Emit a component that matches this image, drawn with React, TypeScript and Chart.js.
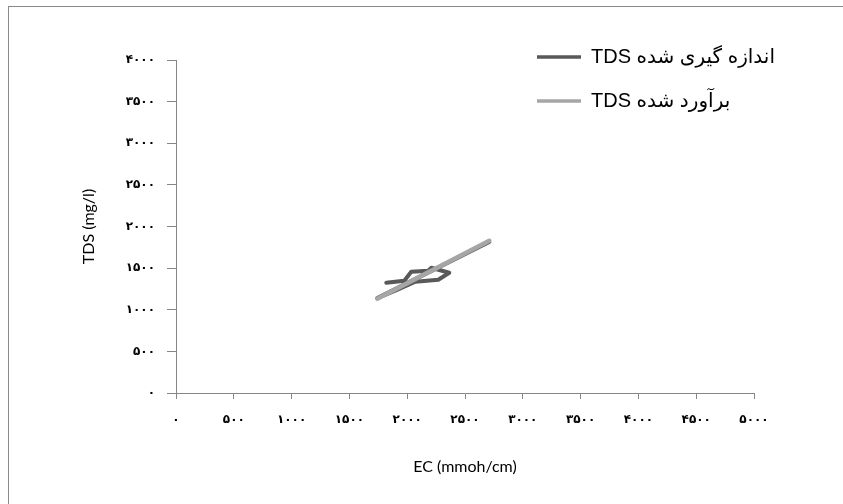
import React, { useEffect, useRef } from "react";
import { Chart, registerables } from "chart.js";

Chart.register(...registerables);

// EC (mmoh/cm) of each sample, in recorded order
const ecValues = [1819, 1975, 2035, 2182, 2208, 2364, 2269, 2070, 1897, 1741, 2710];
// measured TDS (mg/l)
const measuredTds = [1324, 1348, 1456, 1468, 1504, 1444, 1360, 1336, 1228, 1140, 1815];
// estimated TDS (mg/l)
const estimatedTds = [1188, 1300, 1343, 1449, 1467, 1579, 1511, 1368, 1244, 1132, 1828];

const seriesLabels = ["اندازه گیری شده TDS", "برآورد شده TDS"];
const xTickLabels = ["۰", "۵۰۰", "۱۰۰۰", "۱۵۰۰", "۲۰۰۰", "۲۵۰۰", "۳۰۰۰", "۳۵۰۰", "۴۰۰۰", "۴۵۰۰", "۵۰۰۰"];
const yTickLabels = ["۰", "۵۰۰", "۱۰۰۰", "۱۵۰۰", "۲۰۰۰", "۲۵۰۰", "۳۰۰۰", "۳۵۰۰", "۴۰۰۰"];
const xTitle = "EC (mmoh/cm)";
const yTitle = "TDS (mg/l)";

const AXIS = "#868686";

const fixedLegend = {
  id: "fixedLegend",
  afterDraw(chart: any) {
    const ctx = chart.ctx as CanvasRenderingContext2D;
    chart.data.datasets.forEach((ds: any, i: number) => {
      const y = 57 + i * 44;
      ctx.save();
      ctx.strokeStyle = ds.borderColor;
      ctx.lineWidth = 3.5;
      ctx.lineCap = "butt";
      ctx.beginPath();
      ctx.moveTo(537, y);
      ctx.lineTo(581, y);
      ctx.stroke();
      ctx.fillStyle = "#000";
      ctx.font = '20px "Liberation Sans", "DejaVu Sans", sans-serif';
      (ctx as any).direction = "rtl";
      ctx.textAlign = "left";
      ctx.textBaseline = "middle";
      ctx.fillText(ds.label, 591, y);
      ctx.restore();
    });
  },
};

export default function App() {
  const ref = useRef<HTMLCanvasElement | null>(null);
  useEffect(() => {
    if (!ref.current) return;
    const toPts = (ys: number[]) => ecValues.map((x, i) => ({ x, y: ys[i] }));
    const tickFont = { family: '"DejaVu Sans", sans-serif', size: 12, weight: "bold" as const };
    const chart = new Chart(ref.current, {
      type: "scatter",
      data: {
        datasets: [
          {
            label: seriesLabels[0],
            data: toPts(measuredTds),
            showLine: true,
            borderColor: "#595959",
            backgroundColor: "#595959",
            borderWidth: 4,
            pointRadius: 0,
            borderCapStyle: "round",
            borderJoinStyle: "round",
            order: 1,
          },
          {
            label: seriesLabels[1],
            data: toPts(estimatedTds),
            showLine: true,
            borderColor: "#A6A6A6",
            backgroundColor: "#A6A6A6",
            borderWidth: 4.5,
            pointRadius: 0,
            borderCapStyle: "round",
            borderJoinStyle: "round",
            order: 0,
          },
        ],
      },
      options: {
        responsive: false,
        animation: false,
        layout: { padding: { left: 0, right: 89, top: 60, bottom: 0 } },
        plugins: { legend: { display: false }, tooltip: { enabled: false } },
        scales: {
          x: {
            type: "linear",
            min: 0,
            max: 5000,
            afterFit: (s: any) => {
              s.height = 111;
            },
            ticks: {
              stepSize: 500,
              autoSkip: false,
              maxRotation: 0,
              padding: 14,
              color: "#000",
              font: tickFont,
              callback: (_v: any, i: number) => xTickLabels[i],
            },
            grid: { display: true, drawOnChartArea: false, drawTicks: true, tickLength: 6, color: AXIS, tickColor: AXIS },
            border: { display: true, color: AXIS, width: 1 },
            title: {
              display: true,
              text: xTitle,
              color: "#000",
              font: { family: "Lato, sans-serif", size: 16 },
              padding: { top: 0, bottom: 28 },
            },
          },
          y: {
            type: "linear",
            min: 0,
            max: 4000,
            afterFit: (s: any) => {
              s.width = 176;
            },
            ticks: {
              stepSize: 500,
              autoSkip: false,
              padding: 12,
              color: "#000",
              font: tickFont,
              callback: (_v: any, i: number) => yTickLabels[i],
            },
            grid: { display: true, drawOnChartArea: false, drawTicks: true, tickLength: 9, color: AXIS, tickColor: AXIS },
            border: { display: true, color: AXIS, width: 1 },
            title: {
              display: true,
              text: yTitle,
              color: "#000",
              font: { family: "Lato, sans-serif", size: 16 },
              padding: { top: 79, bottom: 0 },
            },
          },
        },
      },
      plugins: [fixedLegend],
    });
    return () => chart.destroy();
  }, []);

  return (
    <div style={{ position: "fixed", left: 0, top: 0, width: 843, height: 504, overflow: "hidden", background: "#fff" }}>
      <div
        style={{
          position: "absolute",
          left: 8,
          top: 6,
          width: 900,
          height: 600,
          border: "1px solid #8a8a8a",
        }}
      />
      <canvas
        ref={ref}
        width={843}
        height={504}
        style={{ position: "absolute", left: 0, top: 0, width: 843, height: 504 }}
      />
    </div>
  );
}
